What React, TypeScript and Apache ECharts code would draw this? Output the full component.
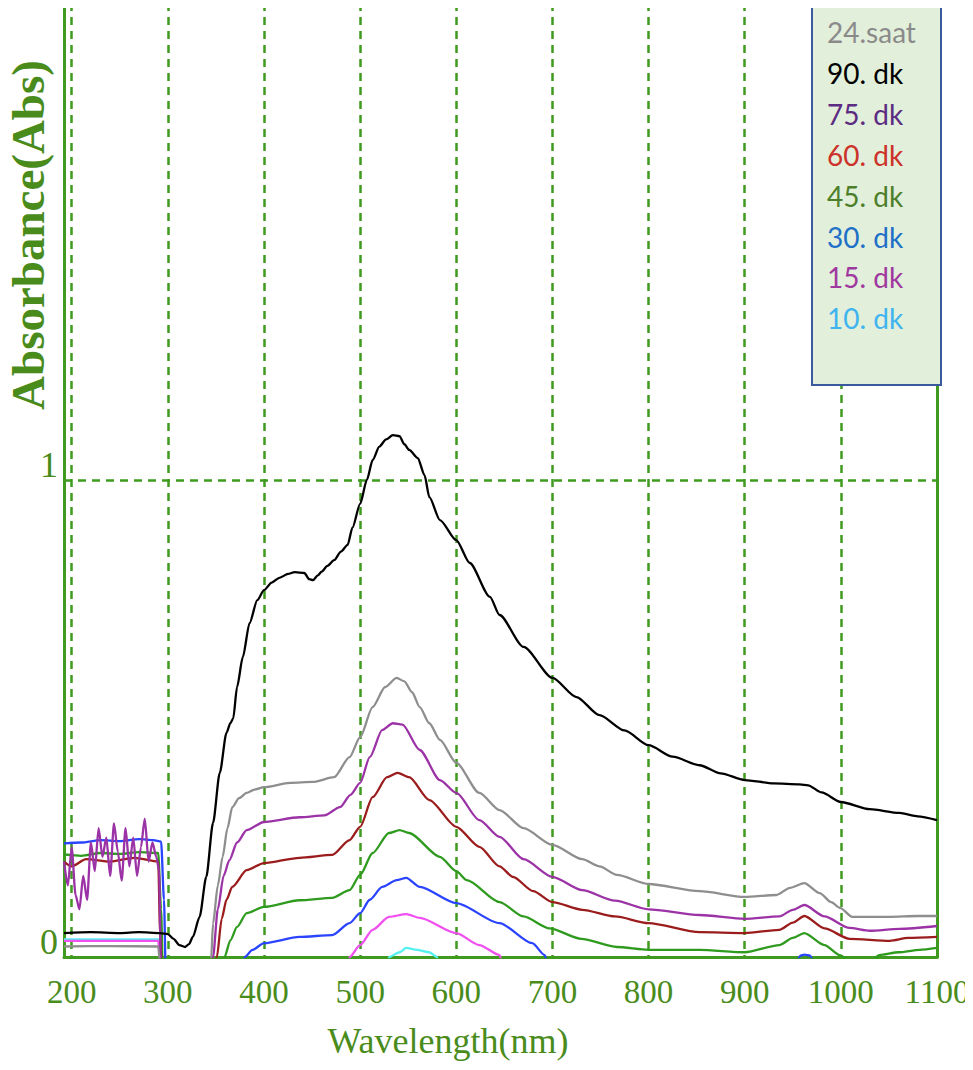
import React, { useEffect, useRef } from "react";
import * as echarts from "echarts";

// Absorbance spectra, [wavelength nm, absorbance]
const saat24: [number, number][] = [
  [192, 0.022], [240, 0.023], [290, 0.022], [293, -0.05], [340, -0.05], [345, -0.005],
  [347, 0.07], [352, 0.15], [357, 0.21], [362, 0.27], [367, 0.314], [374, 0.333],
  [382, 0.344], [390, 0.351], [400, 0.356], [427, 0.365], [451, 0.367], [473, 0.377],
  [489, 0.419], [500, 0.461], [513, 0.524], [526, 0.566], [538, 0.585], [546, 0.578],
  [554, 0.555], [562, 0.524], [572, 0.49], [583, 0.455], [600, 0.407], [624, 0.344],
  [645, 0.308], [670, 0.27], [700, 0.235], [731, 0.205], [749, 0.19], [767, 0.172],
  [800, 0.153], [853, 0.138], [900, 0.126], [933, 0.13], [947, 0.145], [962, 0.155],
  [978, 0.134], [990, 0.115], [999, 0.103], [1012, 0.084], [1050, 0.084], [1080, 0.086],
  [1100, 0.086],
];

const dk90: [number, number][] = [
  [192, 0.05], [220, 0.052], [250, 0.05], [270, 0.052], [292, 0.05], [300, 0.048],
  [306, 0.038], [312, 0.025], [318, 0.021], [322, 0.027], [326, 0.042], [333, 0.084],
  [340, 0.168], [347, 0.281], [354, 0.386], [361, 0.47], [365, 0.49], [368, 0.5],
  [372, 0.566], [378, 0.629], [385, 0.7], [393, 0.748], [400, 0.769], [408, 0.785],
  [416, 0.795], [425, 0.803], [432, 0.807], [442, 0.805], [447, 0.792], [451, 0.79],
  [456, 0.8], [460, 0.808], [466, 0.82], [473, 0.832], [480, 0.85], [487, 0.864],
  [492, 0.9], [500, 0.95], [507, 1.0], [513, 1.042], [520, 1.07], [527, 1.085],
  [534, 1.094], [541, 1.092], [546, 1.075], [551, 1.063], [560, 1.046], [567, 1.01],
  [572, 0.964], [583, 0.916], [600, 0.874], [614, 0.826], [635, 0.755], [645, 0.717],
  [670, 0.65], [700, 0.585], [725, 0.545], [749, 0.507], [775, 0.475], [800, 0.444],
  [825, 0.42], [853, 0.402], [875, 0.385], [900, 0.371], [930, 0.364], [957, 0.362],
  [966, 0.36], [980, 0.345], [1000, 0.325], [1030, 0.31], [1061, 0.302], [1080, 0.295],
  [1100, 0.287],
];

const dk75: [number, number][] = [
  [192, 0.2], [196, 0.15], [200, 0.23], [204, 0.13], [208, 0.1], [212, 0.17],
  [216, 0.12], [220, 0.24], [224, 0.18], [228, 0.27], [232, 0.21], [236, 0.25],
  [240, 0.17], [244, 0.28], [248, 0.22], [252, 0.16], [256, 0.27], [260, 0.19],
  [264, 0.25], [268, 0.17], [272, 0.23], [276, 0.29], [280, 0.2], [284, 0.24],
  [288, 0.21], [291, 0.18], [293, -0.05], [343, -0.05], [347, 0], [352, 0.1],
  [358, 0.17], [364, 0.203], [372, 0.24], [382, 0.266], [400, 0.283], [437, 0.293],
  [463, 0.297], [479, 0.314], [490, 0.34], [500, 0.365], [510, 0.419], [523, 0.476],
  [534, 0.49], [544, 0.487], [562, 0.434], [583, 0.371], [600, 0.344], [624, 0.287],
  [645, 0.252], [670, 0.205], [700, 0.168], [731, 0.14], [765, 0.118], [800, 0.1],
  [853, 0.088], [900, 0.08], [936, 0.085], [950, 0.099], [962, 0.109], [983, 0.085],
  [1009, 0.061], [1030, 0.055], [1061, 0.059], [1100, 0.065],
];

const dk60: [number, number][] = [
  [192, 0.2], [200, 0.19], [215, 0.205], [240, 0.2], [265, 0.208], [290, 0.2],
  [292, 0.05], [294, -0.05], [347, -0.05], [351, 0], [356, 0.08], [361, 0.12],
  [367, 0.147], [382, 0.182], [400, 0.197], [437, 0.208], [471, 0.214], [489, 0.245],
  [500, 0.273], [513, 0.335], [528, 0.377], [539, 0.386], [551, 0.377], [572, 0.329],
  [600, 0.273], [624, 0.231], [645, 0.19], [659, 0.168], [680, 0.138], [700, 0.115],
  [731, 0.099], [765, 0.085], [800, 0.071], [853, 0.052], [900, 0.05], [936, 0.057],
  [950, 0.072], [962, 0.086], [983, 0.06], [1009, 0.038], [1051, 0.034], [1070, 0.04],
  [1100, 0.042],
];

const dk45: [number, number][] = [
  [192, 0.215], [210, 0.212], [230, 0.218], [250, 0.216], [270, 0.22], [290, 0.218],
  [293, 0.1], [295, -0.05], [355, -0.05], [359, 0], [365, 0.035], [372, 0.063],
  [382, 0.092], [400, 0.105], [437, 0.119], [471, 0.124], [489, 0.14], [500, 0.172],
  [513, 0.218], [530, 0.26], [541, 0.266], [551, 0.26], [583, 0.21], [600, 0.18],
  [611, 0.161], [645, 0.115], [670, 0.085], [697, 0.06], [730, 0.038], [767, 0.021],
  [800, 0.015], [853, 0.015], [900, 0.01], [936, 0.025], [950, 0.04], [962, 0.05],
  [983, 0.025], [999, 0.004], [1010, -0.01], [1030, -0.01], [1040, 0.004], [1060, 0.01],
  [1082, 0.015], [1100, 0.019],
];

const dk30: [number, number][] = [
  [192, 0.238], [210, 0.24], [230, 0.245], [250, 0.243], [270, 0.247], [285, 0.245],
  [293, 0.242], [296, 0.12], [298, -0.05], [375, -0.05], [380, 0], [388, 0.015],
  [400, 0.029], [437, 0.042], [471, 0.046], [489, 0.071], [500, 0.092], [510, 0.12],
  [523, 0.147], [538, 0.161], [548, 0.166], [562, 0.147], [600, 0.113], [645, 0.071],
  [679, 0.029], [692, 0.004], [697, -0.03], [950, -0.03], [958, 0.003], [962, 0.005],
  [968, 0.003], [975, -0.03], [1100, -0.03],
];

const dk15: [number, number][] = [
  [192, 0.034], [290, 0.034], [293, -0.05], [485, -0.05], [489, 0], [500, 0.025],
  [513, 0.057], [530, 0.084], [548, 0.09], [562, 0.082], [600, 0.05], [624, 0.025],
  [645, 0.004], [650, -0.03], [1100, -0.03],
];

const dk10: [number, number][] = [
  [192, 0.037], [291, 0.037], [294, -0.05], [527, -0.05], [530, 0], [541, 0.01],
  [548, 0.019], [559, 0.015], [572, 0.01], [580, 0], [584, -0.05], [1100, -0.05],
];

const seriesNames = ["24.saat", "90. dk", "75. dk", "60. dk", "45. dk", "30. dk", "15. dk", "10. dk"];
const seriesData = [saat24, dk90, dk75, dk60, dk45, dk30, dk15, dk10];
const lineColors = ["#8e8e8e", "#000000", "#9b32a6", "#9b1c1c", "#2e9a1e", "#2b44ff", "#f050f0", "#55f0f0"];
const legendColors = ["#8a8a8a", "#000000", "#5b2c82", "#cc3229", "#4d7f2b", "#2170c8", "#a0399f", "#3fb4ef"];

const xTicks = [200, 300, 400, 500, 600, 700, 800, 900, 1000, 1100];
const yMax = 2;

const GREEN = "#3f9a1f";
const TEXT_GREEN = "#4a8c1c";
const SERIF = '"Liberation Serif", "Times New Roman", serif';

export default function App() {
  const ref = useRef<HTMLDivElement>(null);

  useEffect(() => {
    if (!ref.current) return;
    const chart = echarts.init(ref.current, undefined, { renderer: "svg" });

    const legendTop = 3;
    const legendItems = seriesNames.map((name, i) => ({
      type: "text",
      z: 101,
      x: 827,
      y: 32 + i * 40.9,
      style: {
        text: name,
        fill: legendColors[i],
        font: '28px Lato, "Noto Sans", sans-serif',
        align: "left",
        verticalAlign: "middle",
      },
    }));

    chart.setOption({
      animation: false,
      backgroundColor: "#ffffff",
      grid: {
        left: 64,
        right: 36,
        top: 3,
        bottom: 113,
        containLabel: false,
        outerBoundsMode: "none",
      },
      xAxis: {
        type: "value",
        min: 192,
        max: 1100,
        minInterval: 100,
        maxInterval: 100,
        axisLine: { show: true, lineStyle: { color: GREEN, width: 3 } },
        axisTick: { show: false },
        axisLabel: {
          interval: 0,
          hideOverlap: false,
          margin: 17,
          color: TEXT_GREEN,
          fontFamily: SERIF,
          fontSize: 33,
          lineHeight: 36,
          formatter: (v: number) => (xTicks.includes(v) ? String(v) : ""),
        },
        splitLine: { show: true, lineStyle: { color: GREEN, width: 2.5, type: [8, 6] } },
      },
      yAxis: [
        {
          type: "value",
          min: 0,
          max: yMax,
          interval: 1,
          axisLine: { show: true, lineStyle: { color: GREEN, width: 3 } },
          axisTick: { show: false },
          axisLabel: {
            margin: 6,
            color: TEXT_GREEN,
            fontFamily: SERIF,
            fontSize: 36,
            lineHeight: 30,
            verticalAlign: "bottom",
            formatter: (v: number) => (v === yMax ? `{top|${v}}` : String(v)),
            rich: {
              top: {
                color: TEXT_GREEN,
                fontFamily: SERIF,
                fontSize: 36,
                lineHeight: 18,
              },
            },
          },
          splitLine: { show: true, lineStyle: { color: GREEN, width: 2.5, type: [8, 6] } },
        },
        {
          type: "value",
          position: "right",
          min: 0,
          max: yMax,
          interval: 1,
          axisLine: { show: true, lineStyle: { color: GREEN, width: 3 } },
          axisTick: { show: false },
          axisLabel: { show: false },
          splitLine: { show: false },
        },
      ],
      series: seriesData.map((data, i) => ({
        name: seriesNames[i],
        type: "line",
        data,
        showSymbol: false,
        symbol: "none",
        clip: true,
        smooth: 0.25,
        smoothMonotone: "x",
        lineStyle: { color: lineColors[i], width: 2.3 },
        z: 3 + (seriesData.length - i),
      })),
      graphic: [
        {
          type: "text",
          x: 28,
          y: 235,
          rotation: Math.PI / 2,
          style: {
            text: "Absorbance(Abs)",
            fill: TEXT_GREEN,
            font: `bold 47px ${SERIF}`,
            align: "center",
            verticalAlign: "middle",
          },
        },
        {
          type: "text",
          x: 448,
          y: 1041,
          style: {
            text: "Wavelength(nm)",
            fill: TEXT_GREEN,
            font: `36px ${SERIF}`,
            align: "center",
            verticalAlign: "middle",
          },
        },
        {
          type: "rect",
          z: 100,
          shape: { x: 812, y: legendTop, width: 129, height: 382 },
          style: { fill: "#e2efda", stroke: "#3b5a9e", lineWidth: 2 },
        },
        ...legendItems,
      ],
    });

    return () => chart.dispose();
  }, []);

  return <div ref={ref} style={{ width: 973, height: 1070, margin: -8 }} />;
}
